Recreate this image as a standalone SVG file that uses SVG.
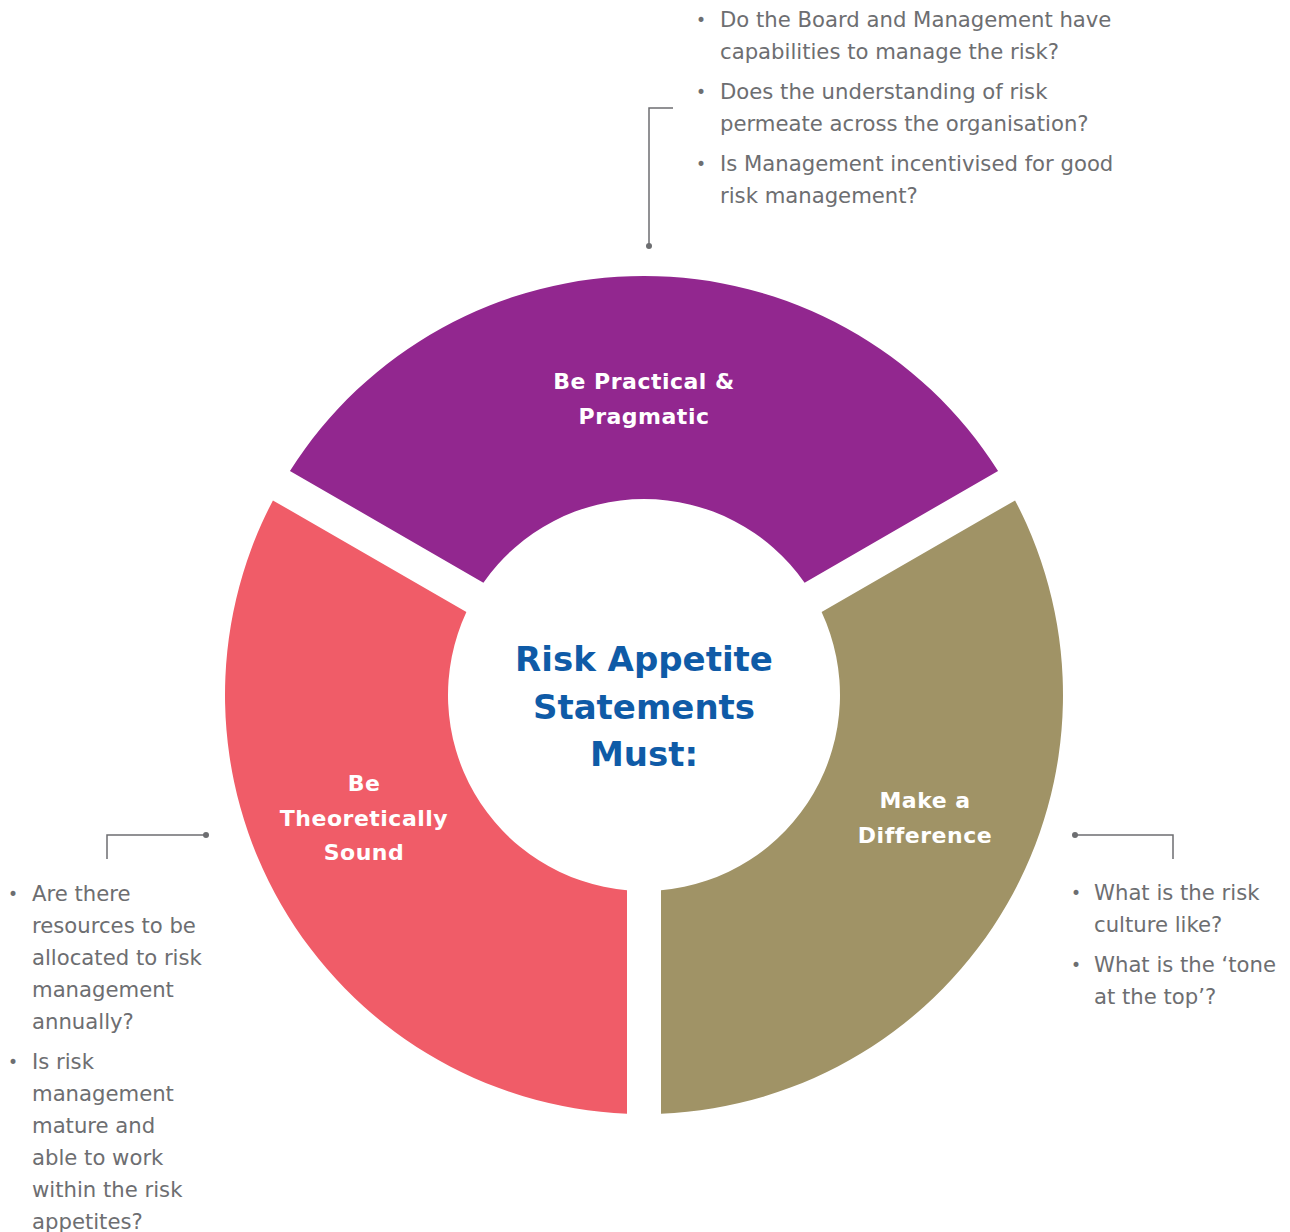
<svg xmlns="http://www.w3.org/2000/svg" width="1290" height="1232" viewBox="0 0 1290 1232">
<style>
.seg-label{font-family:"DejaVu Sans",sans-serif;font-weight:bold;font-size:22px;fill:#ffffff;text-anchor:middle;letter-spacing:0.5px}
.center{font-family:"DejaVu Sans",sans-serif;font-weight:bold;font-size:34px;fill:#0F5BA7;text-anchor:middle}
.q{font-family:"DejaVu Sans",sans-serif;font-size:21.2px;fill:#6D6E71}
.b{font-family:"DejaVu Sans",sans-serif;font-size:17px;fill:#6D6E71;text-anchor:middle}
.conn{fill:none;stroke:#6D6E71;stroke-width:1.5}
.dot{fill:#6D6E71}
</style>
<rect width="1290" height="1232" fill="#ffffff"/>
<g id="practical">
<path d="M289.94,470.95 A419,419 0 0 1 998.06,470.95 L804.6,582.65 A196,196 0 0 0 483.4,582.65 Z" fill="#92278F"/>
<text class="seg-label" x="644" y="389">Be Practical &amp;</text>
<text class="seg-label" x="644" y="424">Pragmatic</text>
</g>
<g id="theoretical">
<path d="M272.94,500.39 L466.4,612.09 A196,196 0 0 0 627,890.26 L627,1113.65 A419,419 0 0 1 272.94,500.39 Z" fill="#F05C68"/>
<text class="seg-label" x="364" y="791">Be</text>
<text class="seg-label" x="364" y="826">Theoretically</text>
<text class="seg-label" x="364" y="860">Sound</text>
</g>
<g id="difference">
<path d="M1015.06,500.39 L821.6,612.09 A196,196 0 0 1 661,890.26 L661,1113.65 A419,419 0 0 0 1015.06,500.39 Z" fill="#A09366"/>
<text class="seg-label" x="925" y="808">Make a</text>
<text class="seg-label" x="925" y="843">Difference</text>
</g>
<g id="title">
<text class="center" x="644" y="671">Risk Appetite</text>
<text class="center" x="644" y="719">Statements</text>
<text class="center" x="644" y="766">Must:</text>
</g>
<g id="connectors">
<polyline class="conn" points="673,108 649,108 649,245"/>
<circle class="dot" cx="649" cy="246" r="3"/>
<polyline class="conn" points="206,835 107,835 107,859"/>
<circle class="dot" cx="206" cy="835" r="3"/>
<polyline class="conn" points="1075,835 1173,835 1173,859"/>
<circle class="dot" cx="1075" cy="835" r="3"/>
</g>
<g id="questions-top">
<text class="b" x="701" y="26">•</text>
<text class="q" x="720" y="27">Do the Board and Management have</text>
<text class="q" x="720" y="59">capabilities to manage the risk?</text>
<text class="b" x="701" y="98">•</text>
<text class="q" x="720" y="99">Does the understanding of risk</text>
<text class="q" x="720" y="131">permeate across the organisation?</text>
<text class="b" x="701" y="170">•</text>
<text class="q" x="720" y="171">Is Management incentivised for good</text>
<text class="q" x="720" y="203">risk management?</text>
</g>
<g id="questions-left">
<text class="b" x="13" y="900">•</text>
<text class="q" x="32" y="901">Are there</text>
<text class="q" x="32" y="933">resources to be</text>
<text class="q" x="32" y="965">allocated to risk</text>
<text class="q" x="32" y="997">management</text>
<text class="q" x="32" y="1029">annually?</text>
<text class="b" x="13" y="1068">•</text>
<text class="q" x="32" y="1069">Is risk</text>
<text class="q" x="32" y="1101">management</text>
<text class="q" x="32" y="1133">mature and</text>
<text class="q" x="32" y="1165">able to work</text>
<text class="q" x="32" y="1197">within the risk</text>
<text class="q" x="32" y="1229">appetites?</text>
</g>
<g id="questions-right">
<text class="b" x="1076" y="899">•</text>
<text class="q" x="1094" y="900">What is the risk</text>
<text class="q" x="1094" y="932">culture like?</text>
<text class="b" x="1076" y="971">•</text>
<text class="q" x="1094" y="972">What is the ‘tone</text>
<text class="q" x="1094" y="1004">at the top’?</text>
</g>
</svg>
